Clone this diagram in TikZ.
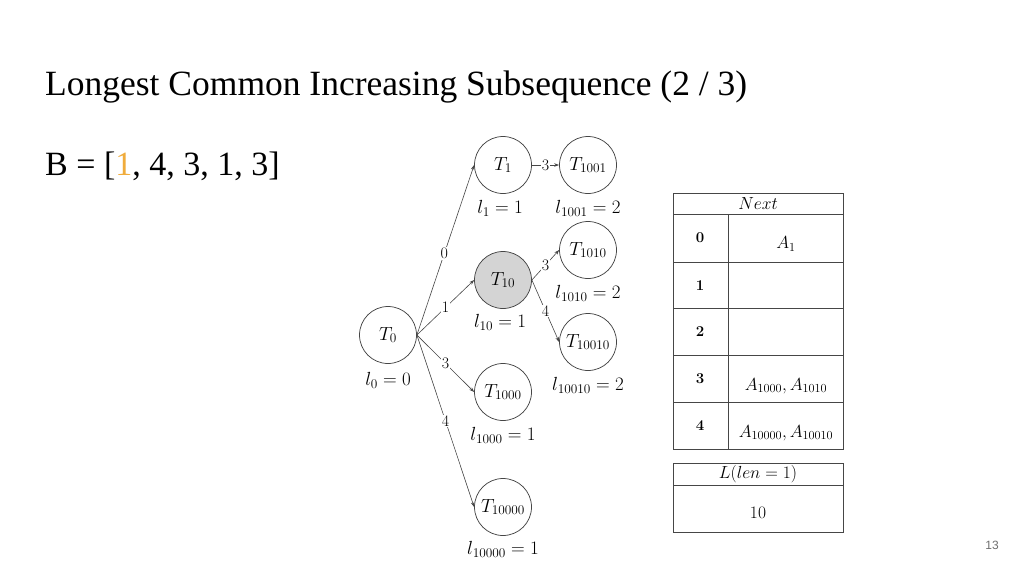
\RequirePackage{fix-cm}
\documentclass[tikz,border=0pt]{standalone}
\usepackage{fontspec}
\newfontfamily\titlefont{Liberation Serif}
\newfontfamily\pagefont{Liberation Sans}
\usetikzlibrary{arrows.meta}
\definecolor{linegray}{RGB}{70,70,70}
\definecolor{fillgray}{RGB}{212,212,212}
\definecolor{hiorange}{RGB}{240,172,60}
\definecolor{pagegray}{RGB}{110,110,110}

\begin{document}
\begin{tikzpicture}[x=1pt, y=-1pt,
  vtx/.style={draw=linegray, circle, line width=0.75pt, minimum size=57pt, inner sep=0pt,
    font=\fontsize{19}{22}\selectfont},
  lvl/.style={font=\fontsize{19}{22}\selectfont, inner sep=0pt},
  elbl/.style={fill=white, inner sep=1pt, font=\fontsize{16}{18}\selectfont},
  arc/.style={draw=linegray, line width=0.6pt, -{Stealth[length=5pt,width=3.5pt]}},
  grid/.style={draw=linegray, line width=0.7pt},
  cell/.style={inner sep=0pt, font=\fontsize{17.5}{20}\selectfont}]

\useasboundingbox (0,0) rectangle (1024,576);

% ---------- Slide text ----------
\node[anchor=base west, inner sep=0pt, font=\titlefont\fontsize{35.5}{40}\selectfont] (title)
  at (45,95) {Longest Common Increasing Subsequence (2 / 3)};
\node[anchor=base west, inner sep=0pt, font=\titlefont\fontsize{34}{38}\selectfont] (seqb)
  at (45,175) {B = [\textcolor{hiorange}{1}, 4, 3, 1, 3]};
\node[font=\pagefont\fontsize{12}{14}\selectfont, text=pagegray, inner sep=0pt] (pnum)
  at (992,545) {13};

% ---------- Tree ----------
\node[vtx] (t0) at (388,335) {$T_0$};
\node[vtx] (t1) at (503,165) {$T_1$};
\node[vtx, fill=fillgray] (t10) at (503,280) {$T_{10}$};
\node[vtx] (t1000) at (503,392) {$T_{1000}$};
\node[vtx] (t10000) at (503,507) {$T_{10000}$};
\node[vtx] (t1001) at (588,165) {$T_{1001}$};
\node[vtx] (t1010) at (588,250) {$T_{1010}$};
\node[vtx] (t10010) at (588,342) {$T_{10010}$};

% lengths below the vertices
\node[lvl] (l0) at (388,380) {$l_0 = 0$};
\node[lvl] (l1) at (500,208) {$l_1 = 1$};
\node[lvl] (l10) at (500,322) {$l_{10} = 1$};
\node[lvl] (l1000) at (503,435) {$l_{1000} = 1$};
\node[lvl] (l10000) at (503,549) {$l_{10000} = 1$};
\node[lvl] (l1001) at (588,208) {$l_{1001} = 2$};
\node[lvl] (l1010) at (588,293) {$l_{1010} = 2$};
\node[lvl] (l10010) at (588,385) {$l_{10010} = 2$};

% Edges
\draw[arc] (t0.east) -- node[elbl, pos=0.48] {0} (t1.west);
\draw[arc] (t0.east) -- node[elbl, pos=0.5] {1} (t10.west);
\draw[arc] (t0.east) -- node[elbl, pos=0.5] {3} (t1000.west);
\draw[arc] (t0.east) -- node[elbl, pos=0.5] {4} (t10000.west);
\draw[arc] (t1.east) -- node[elbl] {3} (t1001.west);
\draw[arc] (t10.east) -- node[elbl] {3} (t1010.west);
\draw[arc] (t10.east) -- node[elbl] {4} (t10010.west);

% ---------- Next table ----------
\draw[grid] (673,193) rectangle (843,449);
\draw[grid] (673,214) -- (843,214);
\foreach \y in {262,308,355,402}
  \draw[grid] (673,\y) -- (843,\y);
\draw[grid] (728,214) -- (728,449);

\node[cell] (nexthd) at (758,204) {$Next$};
\foreach \k/\y in {0/238,1/286,2/332,3/379,4/426}
  \node[cell, font=\fontsize{15}{17}\selectfont\bfseries] (key\k) at (700,\y) {\k};
\node[cell] (val0) at (786,244) {$A_1$};
\node[cell] (val3) at (786,386) {$A_{1000}, A_{1010}$};
\node[cell] (val4) at (786,433) {$A_{10000}, A_{10010}$};

% ---------- L table ----------
\draw[grid] (673,463) rectangle (843,532);
\draw[grid] (673,485) -- (843,485);
\node[cell] (lhd) at (758,474) {$L(len = 1)$};
\node[cell] (lval) at (758,513) {10};

\end{tikzpicture}
\end{document}
